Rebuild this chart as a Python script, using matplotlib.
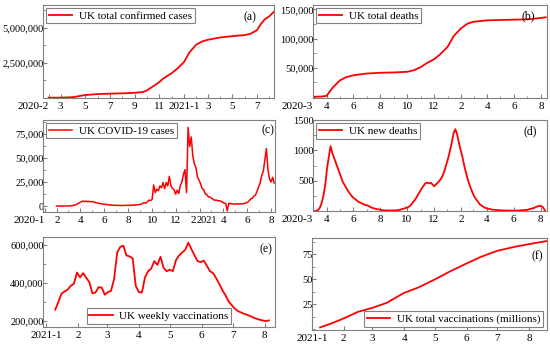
import numpy as np
import pandas as pd
import matplotlib
matplotlib.use("Agg")
import matplotlib.pyplot as plt
import matplotlib.dates as mdates
import matplotlib.transforms as mtransforms
from matplotlib.ticker import AutoMinorLocator

plt.rcParams["font.family"] = ["Liberation Serif", "DejaVu Serif"]
plt.rcParams["font.size"] = 8

RED = "#ff0000"
GREY = "#808080"

# ── (a) UK total confirmed cases ─────────────
a_dates = ["2020-01-31", "2020-03-01", "2020-04-01", "2020-05-01", "2020-06-01",
           "2020-07-01", "2020-08-01", "2020-09-01", "2020-09-20", "2020-10-01",
           "2020-10-15", "2020-11-01", "2020-11-10", "2020-11-20", "2020-12-01",
           "2020-12-15", "2021-01-01", "2021-01-15", "2021-02-01", "2021-02-15",
           "2021-03-01", "2021-04-01", "2021-05-01", "2021-06-01", "2021-06-15",
           "2021-07-01", "2021-07-10", "2021-07-20", "2021-08-01", "2021-08-11"]
a_vals = [0, 5000, 40000, 190000, 260000,
          290000, 310000, 350000, 400000, 520000,
          790000, 1120000, 1360000, 1550000, 1740000,
          2070000, 2550000, 3260000, 3810000, 4020000,
          4140000, 4310000, 4400000, 4480000, 4570000,
          4830000, 5240000, 5600000, 5830000, 6120000]

# ── (b) UK total deaths ──────────────────────
b_dates = ["2020-03-01", "2020-03-20", "2020-04-01", "2020-04-15", "2020-05-01",
           "2020-05-15", "2020-06-01", "2020-07-01", "2020-08-01", "2020-09-01",
           "2020-10-01", "2020-10-15", "2020-11-01", "2020-11-15", "2020-12-01",
           "2020-12-15", "2021-01-01", "2021-01-15", "2021-02-01", "2021-02-15",
           "2021-03-01", "2021-04-01", "2021-05-01", "2021-06-01", "2021-07-01",
           "2021-08-01", "2021-08-12"]
b_vals = [0, 500, 1700, 16000, 28000,
          33700, 37000, 40000, 41300, 41900,
          43000, 45300, 51000, 58000, 64500,
          73000, 86000, 104600, 118000, 125600,
          129000, 131400, 132000, 132500, 133000,
          135500, 136600]

# ── (c) UK daily cases, every 4 days from 2020-01-31 (thousands) ──
c_start, c_end = "2020-01-31", "2021-08-09"
c_vals_k = [0, 0, 0, 0, 0, 0, 0, 0.05,
            0.1, 0.2, 0.4, 0.8, 1.3, 2.0, 3.0, 3.9,
            4.6, 5.3, 4.6, 5.2, 4.5, 5.0, 4.3,
            4.8, 4.0, 3.6, 3.3, 2.8, 2.6, 2.2, 1.9,
            1.7, 1.5, 1.3, 1.1, 1.0, 0.9, 0.85,
            0.8, 0.7, 0.65, 0.7, 0.65, 0.6, 0.75, 0.8,
            0.75, 0.9, 1.0, 1.1, 1.0, 1.2, 1.3, 1.7,
            1.9, 2.9, 3.5, 3.1, 4.4, 6.2, 5.7,
            7.0, 22.0, 14.0, 17.5, 16.0, 21.0, 19.0, 24.5,
            18.0, 24.5, 21.0, 31.0, 21.0, 18.5, 17.0, 12.5,
            16.5, 13.0, 21.5, 25.0, 33.0, 38.0, 14.0,
            82.0, 62.0, 72.0, 52.0, 44.0, 40.0, 30.0, 27.0,
            23.0, 18.0, 17.0, 12.5, 12.0, 9.5, 9.5,
            8.0, 7.0, 6.0, 6.3, 5.5, 5.6, 5.0, 4.2,
            3.0, 2.8, -5.0, 3.0, 2.5, 2.3, 2.0,
            2.0, 2.5, 2.2, 2.3, 2.5, 2.4, 2.8, 3.2,
            4.0, 5.5, 7.5, 8.0, 10.5, 11.5, 15.0, 20.0,
            24.0, 32.0, 36.0, 48.0, 60.0, 38.0, 28.0, 25.0, 30.0, 24.0]

# ── (d) UK new deaths, every 4 days from 2020-03-01 ──
d_start, d_end = "2020-03-01", "2021-08-11"
d_vals = [0, 0, 5, 20, 60, 140, 260, 430,
          700, 880, 1070, 960, 880, 800, 720, 640,
          560, 480, 430, 380, 330, 290, 250,
          220, 200, 175, 150, 140, 125, 110, 100,
          95, 80, 65, 50, 45, 35, 30, 25,
          20, 15, 12, 12, 10, 12, 10,
          12, 12, 15, 20, 25, 35, 45, 55,
          65, 80, 110, 150, 185, 230, 280, 330,
          380, 420, 460, 470, 455, 470, 440,
          410, 440, 470, 500, 540, 600, 680, 780,
          880, 1000, 1130, 1280, 1350, 1270, 1130, 1010,
          900, 760, 640, 530, 440, 360, 290,
          230, 190, 150, 110, 90, 70, 55,
          45, 38, 30, 25, 22, 20, 18, 15,
          12, 12, 10, 10, 9, 9, 8, 8,
          8, 10, 10, 12, 15, 18, 20,
          22, 30, 38, 45, 55, 70, 80, 85,
          85, 60, 10]

# ── (e) UK weekly vaccinations, every 3 days from 2021-01-10 (thousands) ──
e_start, e_end = "2021-01-10", "2021-08-05"
e_vals_k = [260, 300, 344, 355, 365, 385, 395, 455, 430, 452,
            428, 405, 345, 350, 378, 376, 338, 352, 358, 420,
            560, 590, 596, 545, 540, 530, 385, 352, 350, 430,
            462, 476, 515, 495, 538, 480, 462, 470, 462, 520,
            545, 560, 575, 612, 578, 545, 515, 510, 518, 490,
            462, 452, 425, 395, 362, 335, 303, 284, 265, 252,
            245, 238, 232, 226, 218, 212, 207, 203, 199, 203]

# ── (f) UK total vaccinations (millions) ─────
f_dates = ["2021-01-09", "2021-01-20", "2021-02-01", "2021-02-15", "2021-03-01",
           "2021-03-15", "2021-04-01", "2021-04-15", "2021-05-01", "2021-05-15",
           "2021-06-01", "2021-06-15", "2021-07-01", "2021-07-18", "2021-08-01",
           "2021-08-18"]
f_vals = [1.7, 5.7, 10.7, 17.3, 21.3,
          26.3, 36.3, 41.7, 49.7, 57.3,
          65.7, 72.3, 78.3, 82.3, 85.0,
          88.0]

# ── axis ticks ───────────────────────────────
a_xt = ["2020-02", "2020-03", "2020-05", "2020-07", "2020-09", "2020-11",
        "2021-01", "2021-03", "2021-05", "2021-07"]
a_xl = ["2020-2", "3", "5", "7", "9", "11", "2021-1", "3", "5", "7"]
bd_xt = ["2020-03", "2020-04", "2020-06", "2020-08", "2020-10", "2020-12",
         "2021-02", "2021-04", "2021-06", "2021-08"]
bd_xl = ["2020-3", "4", "6", "8", "10", "12", "2", "4", "6", "8"]
c_xt = ["2020-01", "2020-02", "2020-04", "2020-06", "2020-08", "2020-10",
        "2020-12", "2021-02", "2021-04", "2021-06", "2021-08"]
c_xl = ["2020-1", "2", "4", "6", "8", "10", "12", "2", "4", "6", "8"]
ef_xt = ["2021-01", "2021-02", "2021-03", "2021-04", "2021-05", "2021-06",
         "2021-07", "2021-08"]
ef_xl = ["2021-1", "2", "3", "4", "5", "6", "7", "8"]

a_yt = [2500000, 5000000]
b_yt = [50000, 100000, 150000]
c_yt = [0, 25000, 50000, 75000]
d_yt = [500, 1000, 1500]
e_yt = [200000, 400000, 600000]
f_yt = [25, 50, 75]


def style_axis(ax, xt, xl, yt, ylabels, xlim, ylim, first_right=True):
    ax.set_xlim(pd.to_datetime(xlim[0]), pd.to_datetime(xlim[1]))
    ax.set_ylim(*ylim)
    ax.set_xticks(pd.to_datetime(xt))
    ax.set_xticklabels(xl)
    ax.xaxis.set_minor_locator(mdates.MonthLocator())
    ax.set_yticks(yt)
    ax.set_yticklabels(ylabels)
    ax.yaxis.set_minor_locator(AutoMinorLocator(2))
    ax.tick_params(axis="both", which="both", direction="in", color=GREY)
    ax.tick_params(axis="both", which="major", length=3)
    ax.tick_params(axis="both", which="minor", length=1.8)
    ax.tick_params(axis="x", labelsize=8, pad=3)
    ax.tick_params(axis="y", labelsize=7.5, pad=-0.5)
    if first_right:
        ax.get_xticklabels()[0].set_ha("right")
    for sp in ax.spines.values():
        sp.set_edgecolor(GREY)
        sp.set_linewidth(0.8)


def add_legend(ax, loc):
    leg = ax.legend(loc=loc, frameon=True, fancybox=False, framealpha=1,
                    edgecolor=GREY, fontsize=8, borderpad=0.25,
                    handletextpad=0.6, handlelength=2.1, borderaxespad=0.3)
    leg.get_frame().set_linewidth(0.8)


fig = plt.figure(figsize=(5.5, 3.45), dpi=100)

# (a)
ax = fig.add_axes([0.078, 0.716, 0.42, 0.27])
ax.plot(pd.to_datetime(a_dates), a_vals, color=RED, lw=1.3, label="UK total confirmed cases")
style_axis(ax, a_xt, a_xl, a_yt, [f"{v:,}" for v in a_yt],
           ("2020-01-17", "2021-08-12"), (-20000, 6640000))
add_legend(ax, "upper left")
ax.text(0.926, 0.935, "(a)", transform=ax.transAxes, ha="right", va="top", fontsize=8.5)

# (b)
ax = fig.add_axes([0.569, 0.716, 0.425, 0.27])
ax.plot(pd.to_datetime(b_dates), b_vals, color=RED, lw=1.3, label="UK total deaths")
style_axis(ax, bd_xt, bd_xl, b_yt, [f"{v:,}" for v in b_yt],
           ("2020-03-01", "2021-08-14"), (-2000, 158000))
add_legend(ax, "upper left")
ax.text(0.949, 0.946, "(b)", transform=ax.transAxes, ha="right", va="top", fontsize=8.5)

# (c)
ax = fig.add_axes([0.078, 0.386, 0.422, 0.267])
c_x = pd.date_range(c_start, c_end, periods=len(c_vals_k))
ax.plot(c_x, np.array(c_vals_k) * 1000, color=RED, lw=1.1, label="UK COVID-19 cases")
style_axis(ax, c_xt, c_xl, c_yt, [f"{v:,}" for v in c_yt],
           ("2019-12-27", "2021-08-11"), (-6000, 90000))
# the "2" of Feb 2021 and the year run together ("22021") in the source figure
feb_lbl = ax.get_xticklabels()[7]
feb_lbl.set_ha("right")
feb_lbl.set_transform(feb_lbl.get_transform() +
                      mtransforms.ScaledTranslation(-3 / 72, 0, fig.dpi_scale_trans))
ax.annotate("2021", xy=(pd.to_datetime("2021-02-01"), 0),
            xycoords=("data", "axes fraction"), xytext=(-2.5, -3),
            textcoords="offset points", ha="left", va="top", fontsize=7.5,
            annotation_clip=False)
add_legend(ax, "upper left")
ax.text(0.996, 0.946, "(c)", transform=ax.transAxes, ha="right", va="top", fontsize=8.5)

# (d)
ax = fig.add_axes([0.569, 0.388, 0.425, 0.264])
d_x = pd.date_range(d_start, d_end, periods=len(d_vals))
ax.plot(d_x, d_vals, color=RED, lw=1.3, label="UK new deaths")
style_axis(ax, bd_xt, bd_xl, d_yt, [str(v) for v in d_yt],
           ("2020-03-01", "2021-08-15"), (0, 1500))
add_legend(ax, "upper left")
ax.text(0.957, 0.946, "(d)", transform=ax.transAxes, ha="right", va="top", fontsize=8.5)

# (e)
ax = fig.add_axes([0.078, 0.052, 0.422, 0.261])
e_x = pd.date_range(e_start, e_end, periods=len(e_vals_k))
ax.plot(e_x, np.array(e_vals_k) * 1000, color=RED, lw=1.3, label="UK weekly vaccinations")
style_axis(ax, ef_xt, ef_xl, e_yt, [f"{v:,}" for v in e_yt],
           ("2020-12-29", "2021-08-11"), (168000, 642000), first_right=False)
add_legend(ax, "lower center")
ax.text(0.99, 0.933, "(e)", transform=ax.transAxes, ha="right", va="top", fontsize=8.5)

# (f)
ax = fig.add_axes([0.567, 0.043, 0.427, 0.267])
ax.plot(pd.to_datetime(f_dates), f_vals, color=RED, lw=1.3, label="UK total vaccinations (millions)")
style_axis(ax, ef_xt, ef_xl, f_yt, [str(v) for v in f_yt],
           ("2021-01-01", "2021-08-18"), (-1, 91), first_right=False)
add_legend(ax, "lower right")
ax.text(0.983, 0.87, "(f)", transform=ax.transAxes, ha="right", va="top", fontsize=8.5)

fig.savefig("out.png", dpi=100)
